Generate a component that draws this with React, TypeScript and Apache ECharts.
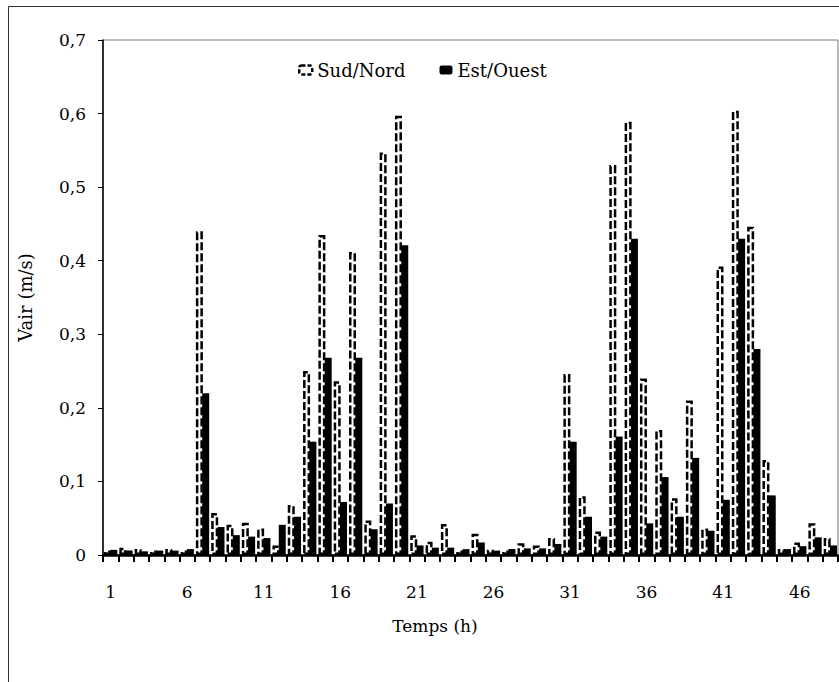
import React, { useEffect, useRef } from "react";
import * as echarts from "echarts";

const hours: string[] = Array.from({ length: 48 }, (_, i) => String(i + 1));

const sudNord: number[] = [
  0.006, 0.010, 0.008, 0.006, 0.008, 0.006, 0.440, 0.057, 0.041, 0.044,
  0.036, 0.013, 0.068, 0.250, 0.435, 0.236, 0.412, 0.047, 0.547, 0.597,
  0.027, 0.018, 0.042, 0.006, 0.029, 0.007, 0.006, 0.016, 0.013, 0.023,
  0.246, 0.080, 0.032, 0.530, 0.589, 0.240, 0.170, 0.077, 0.210, 0.036,
  0.392, 0.604, 0.446, 0.129, 0.008, 0.017, 0.043, 0.023,
];

const estOuest: number[] = [
  0.007, 0.006, 0.005, 0.006, 0.006, 0.008, 0.220, 0.038, 0.027, 0.025,
  0.023, 0.041, 0.052, 0.154, 0.268, 0.072, 0.268, 0.035, 0.070, 0.421,
  0.013, 0.010, 0.010, 0.008, 0.017, 0.006, 0.008, 0.009, 0.009, 0.015,
  0.154, 0.052, 0.025, 0.161, 0.430, 0.043, 0.106, 0.052, 0.132, 0.033,
  0.075, 0.430, 0.280, 0.081, 0.008, 0.012, 0.024, 0.013,
];

const seriesNames: string[] = ["Sud/Nord", "Est/Ouest"];
const xTitle = "Temps (h)";
const yTitle = "Vair (m/s)";

const FONT = "DejaVu Serif";

export default function App() {
  const ref = useRef<HTMLDivElement>(null);

  useEffect(() => {
    if (!ref.current) return;
    const chart = echarts.init(ref.current, undefined, { renderer: "svg" });
    chart.setOption({
      animation: false,
      backgroundColor: "#fff",
      textStyle: { fontFamily: FONT, color: "#000", fontSize: 17 },
      title: {
        text: xTitle,
        left: 430,
        top: 612,
        textAlign: "center",
        textStyle: { fontFamily: FONT, fontSize: 17, fontWeight: "normal", color: "#000" },
      },
      graphic: [
        {
          type: "rect",
          shape: { x: 8.5, y: 6.5, width: 900, height: 800 },
          style: { fill: "none", stroke: "#333", lineWidth: 1 },
          silent: true,
        },
      ],
      legend: {
        top: 56,
        left: 293,
        itemWidth: 13,
        itemHeight: 9,
        itemGap: 34,
        textStyle: { fontFamily: FONT, fontSize: 18, color: "#000" },
        data: [
          { name: seriesNames[0], itemStyle: { color: "#fff", borderColor: "#000", borderWidth: 2.5, borderType: [4, 2] as any } },
          { name: seriesNames[1], itemStyle: { color: "#000" } },
        ],
      },
      grid: {
        left: 103,
        right: 1,
        top: 40,
        bottom: 127,
        show: true,
        borderColor: "#777",
        borderWidth: 1,
        containLabel: false,
      },
      xAxis: {
        type: "category",
        data: hours,
        boundaryGap: true,
        axisLine: { show: true, lineStyle: { color: "#000", width: 2.5 } },
        axisTick: { show: true, interval: 0, length: 7, lineStyle: { color: "#000", width: 2 } },
        axisLabel: {
          show: true,
          interval: 4,
          margin: 28,
          fontFamily: FONT,
          fontSize: 17,
          color: "#000",
        },
        splitLine: { show: false },
      },
      yAxis: {
        type: "value",
        min: 0,
        max: 0.7,
        interval: 0.1,
        name: yTitle,
        nameLocation: "middle",
        nameGap: 69,
        nameRotate: 90,
        nameTextStyle: { fontFamily: FONT, fontSize: 18, color: "#000" },
        axisLine: { show: true, lineStyle: { color: "#000", width: 1.5 } },
        axisTick: { show: true, length: 5, lineStyle: { color: "#000" } },
        axisLabel: {
          margin: 17,
          fontFamily: FONT,
          fontSize: 17,
          color: "#000",
          formatter: (v: number) => (v === 0 ? "0" : v.toFixed(1).replace(".", ",")),
        },
        splitLine: { show: false },
      },
      series: [
        {
          name: seriesNames[0],
          type: "bar",
          data: sudNord,
          barWidth: 7,
          barGap: "-10%",
          itemStyle: {
            color: "#fff",
            borderColor: "#000",
            borderWidth: 2.5,
            borderType: [8, 3] as any,
          },
        },
        {
          name: seriesNames[1],
          type: "bar",
          data: estOuest,
          barWidth: 7,
          itemStyle: { color: "#000" },
        },
      ],
    });
    return () => chart.dispose();
  }, []);

  return (
    <div
      ref={ref}
      style={{ position: "fixed", left: 0, top: 0, width: 839, height: 682, background: "#fff" }}
    />
  );
}
